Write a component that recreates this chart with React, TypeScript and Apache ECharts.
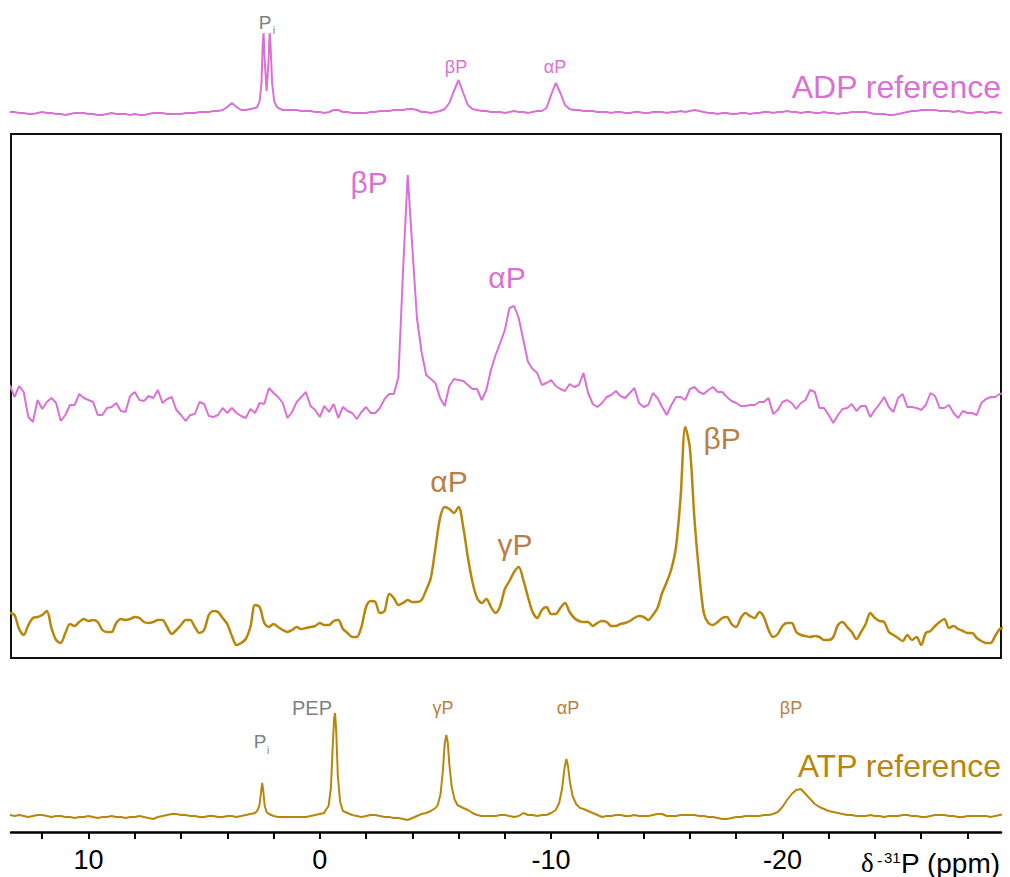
import React, { useEffect, useRef } from 'react';
import * as echarts from 'echarts';

// Sampling of the traces: chemical shift (ppm) from 13.4 down to -29.6 in 0.2 ppm steps.
// null marks samples that are given at finer resolution in the peak detail lists.
const PPM_START = 13.4;
const PPM_STEP = 0.2;

// Axis range (ppm) and ticks
const X_MIN = -29.45;
const X_MAX = 13.35;
const TICK_VALUES = [12, 10, 8, 6, 4, 2, 0, -2, -4, -6, -8, -10, -12, -14, -16, -18, -20, -22, -24, -26, -28];
const TICK_LABELS = [10, 0, -10, -20];

// ADP reference spectrum (intensity, arbitrary units)
const adpRefTrace: (number | null)[] = [
  1, 1, 0, 0, -1, -1, 0, 1, 0, 0,
  -1, -1, -2, -1, 0, 0, 0, -1, -1, -2,
  -2, -1, 0, -1, -1, -1, -2, -1, -2, -2,
  -1, 0, 0, 0, -1, -1, -1, -1, 0, 0,
  0, 1, 1, 1, 2, 2, 3, 6, 10, 6,
  3, 3, 4, 5, null, null, null, null, 5, 3,
  3, 3, 3, 2, 2, 2, 1, 1, 0, 1,
  3, 3, 1, 1, 0, 0, 0, 0, 1, 1,
  2, 2, 2, 3, 3, 3, 4, 4, 3, 1,
  1, 0, 1, 2, 4, 10, 22, 33, 20, 8,
  4, 3, 2, 2, 1, 1, 1, 0, 1, 2,
  1, 1, 0, 1, 2, 2, 5, 18, 30, 20,
  8, 4, 3, 3, 2, 2, 2, 1, 1, 1,
  0, 1, 1, 0, 0, 1, 1, 0, 0, 1,
  1, 1, 0, 1, 1, 2, 1, 2, 3, 2,
  1, 0, 0, -1, 0, 0, -1, -1, 0, 0,
  -1, 0, 0, 1, 1, 0, 1, 1, 2, 1,
  1, 0, 1, 1, 0, 0, 1, 0, 0, -1,
  0, 0, 1, 1, 1, 1, 0, -1, -1, -1,
  -2, -2, -1, 0, 1, 2, 2, 3, 3, 3,
  3, 2, 2, 2, 1, 2, 1, 0, 0, 1,
  1, 0, 1, 1, 0, 1,
];
// Pi doublet of the ADP reference, [ppm, intensity]
const adpRefPiDetail: [number, number][] = [
  [2.7, 6], [2.6, 12], [2.52, 30], [2.47, 68], [2.43, 80], [2.38, 52], [2.3, 22],
  [2.22, 50], [2.17, 80], [2.13, 68], [2.06, 30], [1.97, 12], [1.88, 7],
];

// Sample spectrum, upper trace (ADP)
const adpSampleTrace: number[] = [
  20, 8, 19, 13, -12, -17, 5, -4, 3, 7,
  2, -16, -10, 0, 0, 11, 7, 5, 3, -10,
  -10, -3, -2, 2, -6, -7, 9, 13, 5, 4,
  9, 7, 15, 2, 6, 8, -5, -10, -16, -10,
  -9, 3, 1, -11, -12, -10, -3, -8, -3, -8,
  -11, -13, -4, -8, 2, 1, 17, 12, 8, 2,
  -13, -7, 3, 8, 13, -1, -5, -12, -1, -7,
  1, -13, -2, -6, -8, -14, -7, -2, -8, -8,
  -3, 6, 11, 11, 28, 135, 230, 158, 87, 53,
  30, 26, 22, 7, -1, 19, 26, 25, 24, 20,
  16, 16, 5, 15, 35, 50, 62, 75, 97, 99,
  87, 65, 43, 36, 32, 20, 22, 25, 19, 16,
  14, 21, 18, 20, 32, 12, 1, -2, 2, 8,
  10, 14, 9, 7, 12, 17, 2, -2, 0, 12,
  7, -2, -10, 0, 8, 8, 5, 16, 18, 13,
  11, 15, 18, 13, 13, 8, 4, 2, -1, -1,
  0, 0, 3, 3, 7, -9, -5, 3, 5, 2,
  -4, 2, 5, 15, 13, -3, -3, -10, -18, -10,
  -4, -3, 1, -6, -1, -1, -12, -5, 1, 8,
  -2, -7, 7, 11, -2, -2, -3, -5, 0, 12,
  9, -3, -3, 0, -8, -13, -6, -8, -8, -10,
  2, 6, 8, 8, 11, 12,
];

// Sample spectrum, lower trace (ATP)
const atpSampleTrace: number[] = [
  14, 12, -2, -8, 2, 9, 10, 12, 16, -1,
  -13, -16, -6, 3, 1, 5, 8, 6, 7, 5,
  -3, -5, -5, 4, 8, 7, 8, 10, 9, 5,
  4, 5, 7, 7, 0, -7, -3, 2, 7, 7,
  0, -6, -3, 12, 16, 15, 9, 3, -9, -18,
  -16, -12, 0, 22, 20, 4, 0, 3, 0, -3,
  -5, -3, 0, -2, -1, 0, 1, 4, 2, 2,
  6, 7, -2, -6, -10, -10, 0, 20, 26, 25,
  14, 16, 33, 29, 22, 24, 27, 25, 25, 27,
  37, 49, 79, 109, 120, 118, 114, 120, 100, 70,
  45, 29, 24, 28, 20, 14, 21, 38, 46, 55,
  60, 47, 30, 15, 9, 17, 20, 13, 13, 19,
  24, 15, 9, 6, 5, 5, 1, 4, 6, 5,
  1, 1, 3, 4, 6, 9, 11, 10, 7, 12,
  19, 34, 45, 58, 80, 130, 200, 179, 107, 54,
  14, 4, 2, 5, 9, 10, 3, 0, 9, 14,
  11, 9, 15, 10, -3, -10, -7, 1, 4, 4,
  -5, -8, -9, -10, -9, -10, -13, -13, -10, 2,
  5, 0, -5, -12, -5, 3, 14, 9, 6, 5,
  -5, -8, -11, -14, -8, -13, -10, -18, -6, -4,
  1, 5, 8, -1, 1, -2, -4, -6, -6, -11,
  -14, -16, -16, -9, -2, 0,
];

// ATP reference spectrum
const atpRefTrace: (number | null)[] = [
  1, 0, 1, 0, -1, 0, 1, 1, 0, -1,
  0, 0, -1, -1, -2, -1, -1, 0, -1, -2,
  -1, -1, 0, -1, -1, -2, -1, -1, 0, -1,
  -2, -3, -1, 0, 1, 2, 2, 1, 1, 0,
  0, -1, -1, 0, 0, -1, -1, 0, 0, -1,
  0, 1, 2, 3, null, null, 2, 0, -1, -1,
  -1, -1, -1, -1, -1, 0, 1, 2, 3, null,
  null, null, null, null, 1, 0, -1, 0, 1, 1,
  0, -1, -1, -2, -2, -3, -4, -2, 0, 2,
  3, 5, 8, null, null, null, null, null, 8, 6,
  3, 1, 0, 0, 0, 0, 1, 1, 0, -1,
  0, 3, 1, 1, 0, 1, 1, 3, null, null,
  null, null, null, null, 7, 5, 3, 1, -1, 0,
  0, 1, 1, 0, 0, 1, 0, 0, 0, 1,
  2, 2, 0, 0, 0, 1, 1, 1, 1, 0,
  0, -1, -1, -2, -3, -3, -2, -1, -1, 0,
  0, 0, 0, 1, 1, 2, 4, 9, 16, 22,
  26, 27, 22, 17, 12, 9, 7, 5, 4, 3,
  2, 1, 1, 0, 0, 0, 1, 0, 0, -1,
  0, 0, 0, 1, 1, 0, 0, -1, -1, 0,
  1, 1, 1, 0, 0, -1, -1, 0, 0, 0,
  0, 0, -1, 0, 1, 2,
];
const atpRefPiDetail: [number, number][] = [
  [2.68, 6], [2.6, 12], [2.54, 24], [2.49, 33], [2.44, 24], [2.38, 10], [2.3, 4],
];
const atpRefPepDetail: [number, number][] = [
  [-0.2, 4], [-0.38, 10], [-0.48, 28], [-0.56, 70], [-0.62, 98], [-0.66, 103],
  [-0.71, 85], [-0.78, 40], [-0.88, 14], [-1.0, 5],
];
const atpRefGammaDetail: [number, number][] = [
  [-5.1, 11], [-5.22, 22], [-5.32, 45], [-5.4, 72], [-5.47, 81], [-5.53, 74],
  [-5.6, 52], [-5.7, 30], [-5.82, 17], [-5.95, 11],
];
const atpRefAlphaDetail: [number, number][] = [
  [-10.2, 6], [-10.35, 13], [-10.48, 28], [-10.58, 48], [-10.66, 57], [-10.73, 50],
  [-10.82, 33], [-10.93, 20], [-11.08, 12], [-11.25, 8],
];

const PINK = '#DA70D6';
const GOLD = '#B8860B';
const BROWN_TEXT = '#BB7E44';
const GRAY = '#7F7F7F';
const SANS = '"Liberation Sans", Arial, Helvetica, sans-serif';
const SERIF = '"Liberation Serif", "Times New Roman", serif';

function buildTrace(samples: (number | null)[], ...details: [number, number][][]): [number, number][] {
  const pts: [number, number][] = [];
  samples.forEach((v, i) => {
    if (v !== null) pts.push([+(PPM_START - i * PPM_STEP).toFixed(2), v]);
  });
  details.forEach((d) => d.forEach((p) => pts.push(p)));
  return pts.sort((a, b) => b[0] - a[0]);
}

function txt(text: string, x: number, y: number, size: number, fill: string, align = 'center', family = SANS) {
  return {
    type: 'text',
    x,
    y,
    z: 20,
    silent: true,
    style: {
      text,
      fill,
      font: `${size}px ${family}`,
      textAlign: align,
      align,
      textVerticalAlign: 'middle',
      verticalAlign: 'middle',
    },
  };
}

const hiddenX = (gridIndex: number) => ({
  gridIndex,
  type: 'value',
  min: X_MIN,
  max: X_MAX,
  inverse: true,
  show: false,
});

const hiddenY = (gridIndex: number, min: number, max: number) => ({
  gridIndex,
  type: 'value',
  min,
  max,
  show: false,
});

export default function App() {
  const ref = useRef<HTMLDivElement>(null);

  useEffect(() => {
    if (!ref.current) return;
    const chart = echarts.init(ref.current, null, { renderer: 'svg' });

    const lineSeries = (idx: number, data: [number, number][], color: string, width: number, smooth: boolean | number = false) => ({
      type: 'line',
      xAxisIndex: idx,
      yAxisIndex: idx,
      data,
      showSymbol: false,
      symbol: 'none',
      smooth,
      silent: true,
      lineStyle: { color, width },
      itemStyle: { color },
    });

    chart.setOption({
      animation: false,
      backgroundColor: '#ffffff',
      grid: [
        { left: 11, width: 990, top: 21, height: 100 },
        { left: 11, width: 990, top: 134, height: 524, show: true, borderColor: '#111', borderWidth: 2, backgroundColor: 'transparent' },
        { left: 11, width: 990, top: 134, height: 524 },
        { left: 11, width: 990, top: 690, height: 142 },
      ],
      xAxis: [
        hiddenX(0),
        hiddenX(1),
        hiddenX(2),
        {
          gridIndex: 3,
          type: 'value',
          min: X_MIN,
          max: X_MAX,
          inverse: true,
          position: 'bottom',
          axisLine: { show: true, onZero: false, lineStyle: { color: '#000', width: 2.5 } },
          axisTick: { show: true, customValues: TICK_VALUES, length: 7, lineStyle: { color: '#000', width: 2 } },
          axisLabel: {
            show: true,
            customValues: TICK_LABELS,
            margin: 14,
            fontSize: 27,
            color: '#000',
            fontFamily: SANS,
          },
          splitLine: { show: false },
        },
      ],
      yAxis: [
        hiddenY(0, -8, 92),
        hiddenY(1, -253, 271),
        hiddenY(2, -31, 493),
        hiddenY(3, -16, 126),
      ],
      series: [
        lineSeries(0, buildTrace(adpRefTrace, adpRefPiDetail), PINK, 2),
        lineSeries(1, buildTrace(adpSampleTrace), PINK, 2),
        lineSeries(2, buildTrace(atpSampleTrace), GOLD, 2.5, 0.3),
        lineSeries(3, buildTrace(atpRefTrace, atpRefPiDetail, atpRefPepDetail, atpRefGammaDetail, atpRefAlphaDetail), GOLD, 2),
      ],
      graphic: [
        // ADP reference
        txt('P', 265, 22, 19, GRAY),
        txt('i', 274, 30, 11, GRAY),
        txt('βP', 456, 67, 18, PINK),
        txt('αP', 555, 67, 18, PINK),
        txt('ADP reference', 1001, 87, 32, PINK, 'right'),
        // sample spectra
        txt('βP', 369, 182, 30, PINK),
        txt('αP', 507, 277, 30, PINK),
        txt('αP', 449, 481, 30, BROWN_TEXT),
        txt('γP', 515, 544, 30, BROWN_TEXT),
        txt('βP', 722, 438, 30, BROWN_TEXT),
        // ATP reference
        txt('P', 260, 741, 19, GRAY),
        txt('i', 268, 750, 10, GRAY),
        txt('PEP', 312, 708, 20, GRAY),
        txt('γP', 443, 708, 18, BROWN_TEXT),
        txt('αP', 568, 708, 18, BROWN_TEXT),
        txt('βP', 791, 708, 18, BROWN_TEXT),
        txt('ATP reference', 1001, 766, 32, GOLD, 'right'),
        // axis title
        txt('δ', 861, 863, 27, '#000', 'left', SERIF),
        txt('-', 877, 860, 16, '#000', 'left'),
        txt('31', 884, 857, 15, '#000', 'left'),
        txt('P (ppm)', 901, 863, 28, '#000', 'left'),
      ],
    });

    return () => chart.dispose();
  }, []);

  return <div ref={ref} style={{ position: 'fixed', left: 0, top: 0, width: 1010, height: 877 }} />;
}
